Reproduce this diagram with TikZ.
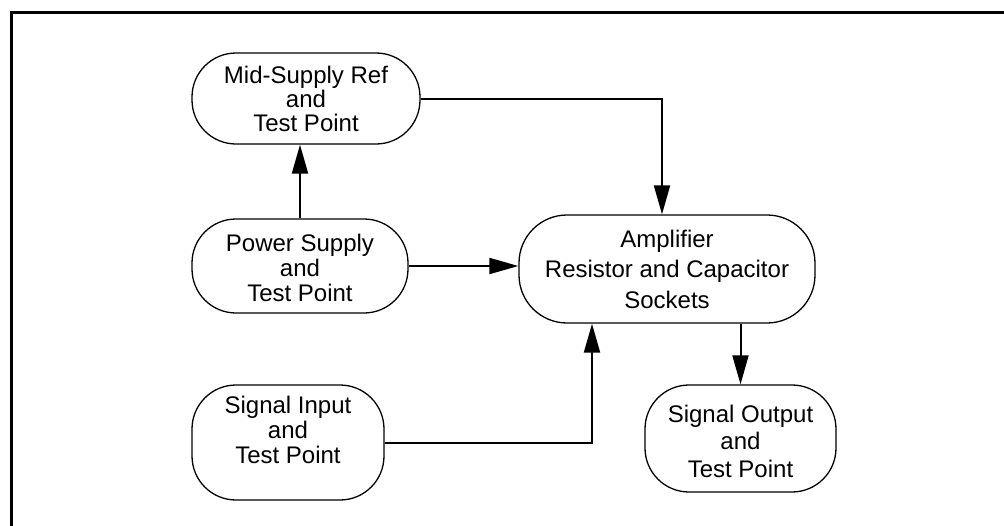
\documentclass[tikz,border=0pt]{standalone}
\usepackage{fontspec}
\setmainfont{Liberation Sans}
\usetikzlibrary{arrows.meta}
\begin{document}
\begin{tikzpicture}[x=1pt,y=-1pt,
  blk/.style={draw, line width=1.3pt, rounded corners=44pt, inner sep=0pt},
  lbl/.style={inner sep=0pt, align=center},
  conn/.style={line width=2pt, -{Triangle[length=29pt,width=16pt]}},
  frameline/.style={line width=3pt}]
\useasboundingbox (0,0) rectangle (1004,525);
\coordinate (fb) at (11.5,530);
\coordinate (fc) at (11.5,12.5);
\coordinate (fr) at (1010,12.5);
\draw[frameline] (fb) -- (fc) -- (fr);
\node[blk, minimum width=228pt, minimum height=91pt] (mid) at (306,98.5) {};
\node[blk, minimum width=216pt, minimum height=94pt] (pow) at (300,266) {};
\node[blk, minimum width=296pt, minimum height=108pt, rounded corners=48pt] (amp) at (667,269) {};
\node[blk, minimum width=192pt, minimum height=115pt] (sin) at (288,442.5) {};
\node[blk, minimum width=191pt, minimum height=107pt] (sout) at (740.5,438.5) {};
\node[lbl, font=\fontsize{24}{24}\selectfont] (midT) at (306,99) {Mid-Supply Ref\\and\\Test Point};
\node[lbl, font=\fontsize{24}{25}\selectfont] (powT) at (300,268) {Power Supply\\and\\Test Point};
\node[lbl, font=\fontsize{24}{30.5}\selectfont] (ampT) at (667,269) {Amplifier\\Resistor and Capacitor\\Sockets};
\node[lbl, font=\fontsize{24}{25}\selectfont] (sinT) at (288,430) {Signal Input\\and\\Test Point};
\node[lbl, font=\fontsize{24}{27.5}\selectfont] (soutT) at (740.5,441) {Signal Output\\and\\Test Point};
\draw[conn] (mid.east) -| ([xshift=-5pt]amp.north);
\draw[conn] (pow.east) -- (pow.east -| amp.west);
\draw[conn] (pow.north) -- (pow.north |- mid.south);
\draw[conn] (sin.east) -| ([xshift=-75pt]amp.south);
\draw[conn] (sout.north |- amp.south) -- (sout.north);
\end{tikzpicture}
\end{document}
